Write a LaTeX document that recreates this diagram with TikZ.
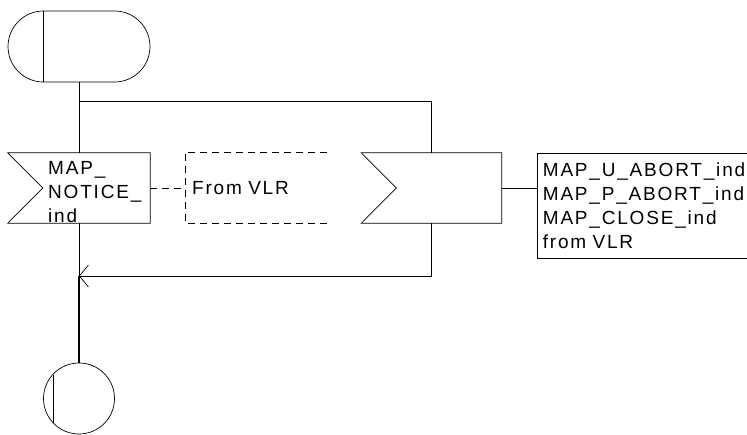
\documentclass[tikz,border=0pt]{standalone}
\usepackage{fontspec}
\newfontfamily\sdlfont[LetterSpace=9.5]{Liberation Sans}
\usetikzlibrary{shapes.misc,arrows.meta}

\begin{document}
\begin{tikzpicture}[
    x=1pt, y=-1pt,
    font=\sdlfont\fontsize{19}{24}\selectfont,
    flow/.style={line width=0.7pt},
    thickflow/.style={line width=1.4pt},
    termbox/.style={rounded rectangle, draw, line width=0.7pt, minimum width=142pt, minimum height=71pt, inner sep=0pt},
    stopbox/.style={circle, draw, line width=0.7pt, minimum size=71pt, inner sep=0pt},
    inbox/.style={rectangle, minimum height=70pt, inner sep=0pt},
    txt/.style={align=left, inner sep=0pt},
    arr/.style={-{Straight Barb[length=9pt, width=22pt]}},
]
    \useasboundingbox (0,0) rectangle (747,434);

    % Start and stop
    \node[termbox] (start) at (79,46.5) {};
    \draw[flow] ([xshift=-35.5pt]start.north) -- ([xshift=-35.5pt]start.south);
    \node[stopbox] (stop) at (79,398.5) {};
    \draw[flow] ([shift={(-26,-24)}]stop.center) -- ([shift={(-26,24)}]stop.center);

    % Inputs
    \node[inbox, minimum width=142pt] (notice) at (79,188) {};
    \draw[flow] (notice.north west) -- (notice.north east) -- (notice.south east) -- (notice.south west) -- ([xshift=35pt]notice.west) -- cycle;
    \node[txt, anchor=north west] (noticetxt) at (48,161.5) {MAP\_\\NOTICE\_\\ind};
    \node[inbox, minimum width=140pt] (abort) at (431.5,188) {};
    \draw[flow] (abort.north west) -- (abort.north east) -- (abort.south east) -- (abort.south west) -- ([xshift=35pt]abort.west) -- cycle;

    % Comments
    \node[txt, anchor=west, text width=128pt, inner xsep=7pt, minimum height=70pt] (fromvlr) at (185,188) {From VLR};
    \draw[flow, dashed, dash pattern=on 7pt off 5pt] (fromvlr.north east) -- (fromvlr.north west) -- (fromvlr.south west) -- (fromvlr.south east);
    \node[txt, anchor=north west, text width=210pt, inner xsep=5.7pt, inner ysep=9.3pt] (reason) at (537,153)
        {MAP\_U\_ABORT\_ind\\MAP\_P\_ABORT\_ind\\MAP\_CLOSE\_ind\\from VLR};
    \draw[flow] (reason.north east) -- (reason.north west) -- (reason.south west) -- (reason.south east);

    % Connections
    \coordinate (split) at (79,101);
    \coordinate (merge) at (79,276);
    \draw[flow] (start.south) -- (notice.north);
    \draw[flow] (split) -| (abort.north);
    \draw[flow, dashed, dash pattern=on 7pt off 5pt] (notice.east) -- (fromvlr.west);
    \draw[flow] (abort.east) -- (abort.east -| reason.west);
    \draw[flow] (notice.south) -- (merge);
    \draw[flow, arr] (abort.south) |- (merge);
    \draw[thickflow] (merge) -- (stop.north);
\end{tikzpicture}
\end{document}
